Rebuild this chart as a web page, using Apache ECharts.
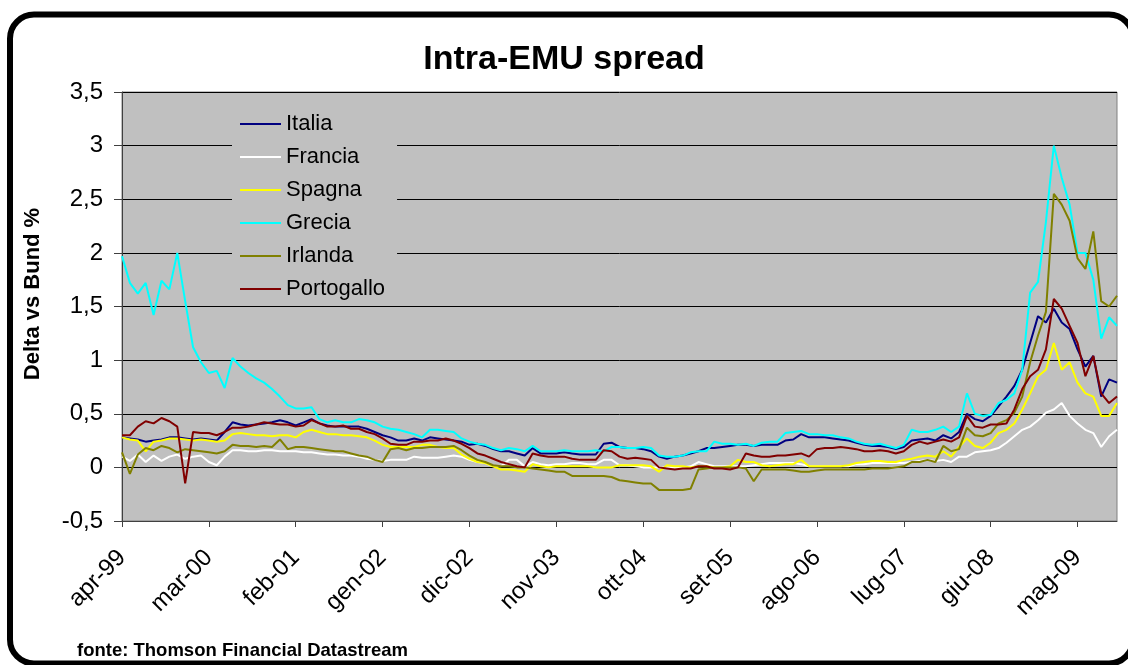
<!DOCTYPE html>
<html>
<head>
<meta charset="utf-8">
<script src="https://cdn.jsdelivr.net/npm/echarts@6/dist/echarts.min.js"></script>
<style>
  html, body { margin: 0; padding: 0; background: #fff; }
  #chart { width: 1128px; height: 665px; }
</style>
</head>
<body>
<div id="chart"></div>
<script>
// monthly points, apr-99 .. ott-09
const monthNames = ['gen', 'feb', 'mar', 'apr', 'mag', 'giu', 'lug', 'ago', 'set', 'ott', 'nov', 'dic']
const categories = []
for (let k = 0; k < 127; k++) {
  const m = (3 + k) % 12
  const y = 1999 + Math.floor((3 + k) / 12)
  categories.push(monthNames[m] + '-' + String(y).slice(2))
}

const italia = [
  0.28, 0.27, 0.26, 0.24, 0.25, 0.26, 0.28, 0.28, 0.27, 0.26, 0.27, 0.26, 0.25, 0.33, 0.42, 0.40, 0.39, 0.40, 0.41, 0.42, 0.44, 0.42,
  0.39, 0.42, 0.45, 0.41, 0.39, 0.38, 0.38, 0.38, 0.38, 0.36, 0.33, 0.30, 0.28, 0.25, 0.25, 0.27, 0.25, 0.28, 0.27, 0.26, 0.25, 0.24, 0.21,
  0.22, 0.20, 0.17, 0.15, 0.15, 0.13, 0.11, 0.18, 0.13, 0.13, 0.13, 0.14, 0.13, 0.12, 0.12, 0.12, 0.22, 0.23, 0.19, 0.18, 0.18,
  0.17, 0.15, 0.10, 0.08, 0.10, 0.11, 0.13, 0.15, 0.18, 0.18, 0.19, 0.20, 0.21, 0.21, 0.20, 0.21, 0.21, 0.21, 0.25, 0.26, 0.31, 0.28,
  0.28, 0.28, 0.27, 0.26, 0.25, 0.23, 0.21, 0.20, 0.20, 0.19, 0.17, 0.19, 0.25, 0.26, 0.27, 0.25, 0.30, 0.27, 0.33, 0.50, 0.45,
  0.43, 0.48, 0.57, 0.66, 0.76, 0.91, 1.16, 1.41, 1.35, 1.48, 1.35, 1.29, 1.10, 0.94, 1.04, 0.66, 0.82, 0.79
]
const francia = [
  0.10, 0.06, 0.12, 0.05, 0.11, 0.06, 0.10, 0.12, 0.08, 0.10, 0.11, 0.05, 0.02, 0.10, 0.16, 0.16, 0.15, 0.15, 0.16, 0.16, 0.15, 0.15,
  0.15, 0.14, 0.14, 0.13, 0.12, 0.12, 0.11, 0.11, 0.10, 0.08, 0.07, 0.06, 0.07, 0.07, 0.07, 0.10, 0.09, 0.09, 0.09, 0.10, 0.11, 0.10, 0.07,
  0.05, 0.04, 0.01, 0.01, 0.07, 0.07, 0.01, 0.05, 0.03, 0.02, 0.03, 0.03, 0.04, 0.04, 0.03, 0.03, 0.07, 0.07, 0.02, 0.02, 0.01,
  0.00, 0.00, 0.00, 0.00, 0.00, 0.00, 0.01, 0.05, 0.03, 0.01, 0.01, 0.01, 0.01, 0.01, 0.02, 0.03, 0.04, 0.04, 0.04, 0.04, 0.03, 0.01,
  0.01, 0.01, 0.01, 0.01, 0.01, 0.03, 0.03, 0.04, 0.04, 0.04, 0.04, 0.04, 0.05, 0.06, 0.07, 0.06, 0.07, 0.05, 0.10, 0.10, 0.14,
  0.15, 0.16, 0.18, 0.23, 0.29, 0.35, 0.38, 0.44, 0.51, 0.54, 0.60, 0.48, 0.41, 0.35, 0.32, 0.19, 0.29, 0.35
]
const spagna = [
  0.28, 0.26, 0.25, 0.15, 0.24, 0.25, 0.27, 0.27, 0.26, 0.25, 0.26, 0.25, 0.24, 0.25, 0.31, 0.32, 0.31, 0.30, 0.30, 0.29, 0.30, 0.30,
  0.28, 0.33, 0.35, 0.33, 0.31, 0.31, 0.30, 0.30, 0.29, 0.28, 0.25, 0.21, 0.19, 0.19, 0.19, 0.19, 0.21, 0.21, 0.19, 0.18, 0.18, 0.12, 0.08,
  0.05, 0.04, 0.01, -0.02, -0.02, -0.03, -0.04, 0.03, 0.01, 0.00, 0.01, 0.01, 0.01, 0.01, 0.01, 0.00, 0.00, 0.00, 0.02, 0.02, 0.02,
  0.02, 0.01, -0.04, 0.02, 0.01, 0.01, 0.00, 0.01, 0.01, 0.00, 0.00, 0.01, 0.07, 0.05, 0.05, 0.02, 0.01, 0.02, 0.03, 0.03, 0.07, 0.01,
  0.01, 0.01, 0.01, 0.01, 0.02, 0.04, 0.05, 0.06, 0.06, 0.05, 0.05, 0.07, 0.08, 0.10, 0.11, 0.10, 0.15, 0.10, 0.19, 0.27, 0.20,
  0.18, 0.23, 0.32, 0.35, 0.41, 0.54, 0.69, 0.85, 0.91, 1.16, 0.91, 0.98, 0.79, 0.69, 0.66, 0.48, 0.48, 0.60
]
const grecia = [
  1.97, 1.72, 1.62, 1.72, 1.42, 1.74, 1.66, 2.00, 1.55, 1.12, 0.98, 0.88, 0.90, 0.74, 1.02, 0.94, 0.88, 0.83, 0.79, 0.73, 0.66, 0.58,
  0.55, 0.55, 0.56, 0.45, 0.42, 0.44, 0.42, 0.42, 0.45, 0.44, 0.42, 0.38, 0.36, 0.35, 0.33, 0.31, 0.28, 0.35, 0.35, 0.34, 0.33, 0.27, 0.24,
  0.22, 0.21, 0.18, 0.16, 0.18, 0.17, 0.15, 0.20, 0.15, 0.15, 0.15, 0.16, 0.15, 0.15, 0.15, 0.16, 0.15, 0.19, 0.19, 0.18, 0.18,
  0.19, 0.18, 0.11, 0.10, 0.10, 0.11, 0.14, 0.15, 0.15, 0.24, 0.22, 0.22, 0.21, 0.22, 0.20, 0.23, 0.24, 0.24, 0.32, 0.33, 0.34, 0.31,
  0.31, 0.30, 0.30, 0.28, 0.27, 0.24, 0.22, 0.21, 0.22, 0.20, 0.18, 0.21, 0.35, 0.33, 0.33, 0.35, 0.38, 0.33, 0.38, 0.69, 0.50,
  0.48, 0.49, 0.60, 0.63, 0.69, 0.91, 1.63, 1.73, 2.29, 3.00, 2.70, 2.45, 2.00, 2.00, 1.75, 1.20, 1.40, 1.32
]
const irlanda = [
  0.14, -0.06, 0.12, 0.18, 0.16, 0.20, 0.18, 0.14, 0.17, 0.16, 0.15, 0.14, 0.13, 0.15, 0.21, 0.20, 0.20, 0.19, 0.20, 0.19, 0.26, 0.17,
  0.19, 0.19, 0.18, 0.17, 0.16, 0.15, 0.15, 0.13, 0.11, 0.10, 0.07, 0.05, 0.17, 0.18, 0.16, 0.18, 0.18, 0.19, 0.19, 0.19, 0.20, 0.16, 0.11,
  0.07, 0.05, 0.02, 0.01, 0.01, 0.00, 0.00, -0.01, -0.02, -0.03, -0.04, -0.04, -0.08, -0.08, -0.08, -0.08, -0.08, -0.09, -0.12, -0.13, -0.14,
  -0.15, -0.15, -0.21, -0.21, -0.21, -0.21, -0.20, -0.02, -0.01, 0.00, 0.00, 0.00, 0.00, -0.01, -0.13, -0.02, -0.02, -0.02, -0.02, -0.03, -0.04, -0.04,
  -0.03, -0.02, -0.02, -0.02, -0.02, -0.02, -0.02, -0.01, -0.01, -0.01, 0.00, 0.01, 0.05, 0.05, 0.07, 0.05, 0.20, 0.15, 0.17, 0.37, 0.30,
  0.29, 0.32, 0.41, 0.44, 0.51, 0.66, 0.98, 1.23, 1.45, 2.55, 2.45, 2.30, 1.95, 1.85, 2.20, 1.55, 1.50, 1.60
]
const portogallo = [
  0.30, 0.30, 0.38, 0.43, 0.41, 0.46, 0.43, 0.38, -0.15, 0.33, 0.32, 0.32, 0.30, 0.33, 0.37, 0.37, 0.38, 0.40, 0.42, 0.41, 0.40, 0.40,
  0.38, 0.39, 0.44, 0.41, 0.38, 0.38, 0.39, 0.36, 0.36, 0.33, 0.31, 0.27, 0.22, 0.21, 0.21, 0.24, 0.24, 0.25, 0.25, 0.27, 0.25, 0.22, 0.18,
  0.13, 0.11, 0.08, 0.05, 0.03, 0.01, 0.00, 0.13, 0.11, 0.10, 0.10, 0.10, 0.08, 0.07, 0.07, 0.07, 0.16, 0.15, 0.10, 0.08, 0.09,
  0.08, 0.07, 0.00, -0.01, -0.02, -0.01, -0.01, 0.01, 0.01, -0.01, -0.01, -0.02, 0.00, 0.13, 0.11, 0.10, 0.10, 0.11, 0.11, 0.12, 0.13, 0.10,
  0.17, 0.18, 0.18, 0.19, 0.18, 0.17, 0.15, 0.15, 0.16, 0.15, 0.13, 0.15, 0.21, 0.24, 0.22, 0.24, 0.26, 0.24, 0.28, 0.48, 0.38,
  0.37, 0.40, 0.40, 0.41, 0.54, 0.73, 0.85, 0.91, 1.10, 1.57, 1.48, 1.32, 1.16, 0.85, 1.04, 0.69, 0.60, 0.66
]

const seriesNames = ['Italia', 'Francia', 'Spagna', 'Grecia', 'Irlanda', 'Portogallo']
const seriesData = [italia, francia, spagna, grecia, irlanda, portogallo]
const seriesColors = ['#000080', '#ffffff', '#ffff00', '#00ffff', '#808000', '#800000']

const font = 'Liberation Sans, Arial, sans-serif'

const chart = echarts.init(document.getElementById('chart'))

chart.setOption({
  animation: false,
  backgroundColor: '#fff',
  title: {
    text: 'Intra-EMU spread',
    left: 'center',
    top: 38,
    textStyle: { fontFamily: font, fontSize: 34, fontWeight: 'bold', color: '#000' }
  },
  legend: {
    orient: 'vertical',
    left: 232,
    top: 105,
    padding: [8, 12, 6, 8],
    backgroundColor: '#c0c0c0',
    itemWidth: 41,
    itemHeight: 2,
    itemGap: 11,
    icon: 'rect',
    data: seriesNames,
    textStyle: { fontFamily: font, fontSize: 22, lineHeight: 22, color: '#000' }
  },
  grid: {
    left: 122,
    right: 11,
    top: 92,
    bottom: 144,
    show: true,
    backgroundColor: '#c0c0c0',
    borderColor: '#808080',
    borderWidth: 1
  },
  xAxis: {
    type: 'category',
    data: categories,
    boundaryGap: false,
    axisLine: { onZero: false, lineStyle: { color: '#404040', width: 1 } },
    axisTick: { interval: 10, length: 6, lineStyle: { color: '#404040' } },
    axisLabel: {
      interval: 10,
      rotate: 45,
      margin: 33,
      fontFamily: font,
      fontSize: 24,
      color: '#000'
    },
    splitLine: { show: false }
  },
  yAxis: {
    type: 'value',
    min: -0.5,
    max: 3.5,
    interval: 0.5,
    axisLine: { show: true, lineStyle: { color: '#404040', width: 1 } },
    axisTick: { show: true, length: 8, lineStyle: { color: '#404040' } },
    axisLabel: {
      margin: 19,
      fontFamily: font,
      fontSize: 24,
      color: '#000',
      formatter: v => String(v).replace('.', ',')
    },
    splitLine: { lineStyle: { color: '#000', width: 1 } }
  },
  series: seriesNames.map((name, i) => ({
    name,
    type: 'line',
    data: seriesData[i],
    color: seriesColors[i],
    showSymbol: false,
    symbol: 'none',
    lineStyle: { width: 2, color: seriesColors[i] },
    emphasis: { disabled: true }
  })),
  graphic: [
    {
      type: 'rect',
      shape: { x: 10, y: 14.5, width: 1123, height: 649, r: 24 },
      style: { fill: 'none', stroke: '#000', lineWidth: 6 },
      z: 100
    },
    {
      type: 'text',
      x: 33,
      y: 294,
      rotation: Math.PI / 2,
      style: {
        text: 'Delta vs Bund %',
        fontFamily: font,
        fontSize: 22,
        fontWeight: 'bold',
        fill: '#000',
        align: 'center',
        verticalAlign: 'middle'
      }
    },
    {
      type: 'text',
      left: 77,
      top: 641,
      style: {
        text: 'fonte: Thomson Financial Datastream',
        fontFamily: font,
        fontSize: 18.5,
        fontWeight: 'bold',
        fill: '#000'
      }
    }
  ]
})
</script>
</body>
</html>
